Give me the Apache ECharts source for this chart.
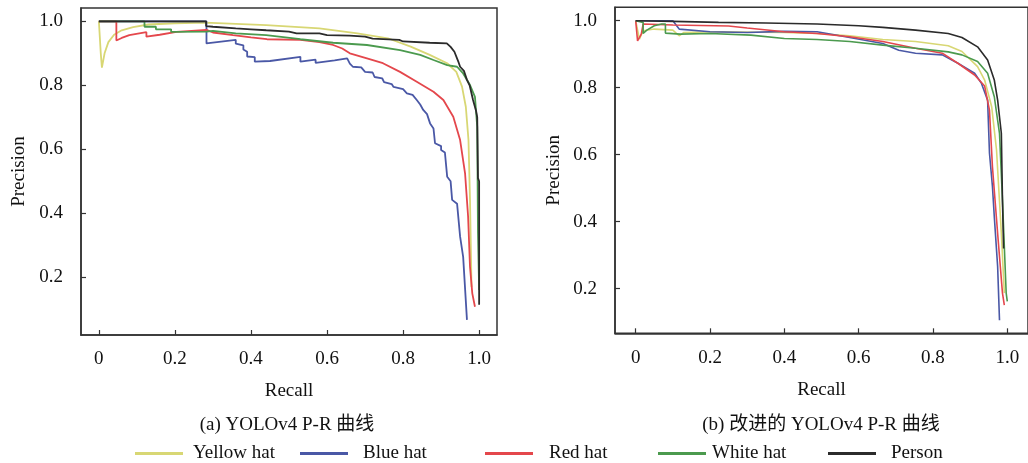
<!DOCTYPE html>
<html><head><meta charset="utf-8">
<script src="https://cdn.jsdelivr.net/npm/echarts@6/dist/echarts.min.js"></script>
<style>html,body{margin:0;padding:0;background:#fff}#c{width:1028px;height:463px}</style>
</head><body><div id="c"></div>
<script>
const seriesNames = ['Yellow hat','Blue hat','Red hat','White hat','Person'];
const seriesColors = ['#d8d774','#4a58a6','#e4474c','#4b9a4e','#2b2b2b'];
const tickValues = [0,0.2,0.4,0.6,0.8,1.0];
const yTickValues = [0.2,0.4,0.6,0.8,1.0];
const titleA = '(a) YOLOv4 P-R 曲线';
const titleB = '(b) 改进的 YOLOv4 P-R 曲线';

// Left panel (YOLOv4): [recall, precision]
const leftYellow = [[0,1.0],[0.005,0.9],[0.008,0.855],[0.015,0.9],[0.025,0.935],[0.04,0.958],[0.06,0.972],[0.09,0.982],[0.13,0.99],[0.2,0.994],[0.28,0.996],[0.44,0.988],[0.58,0.978],[0.68,0.9625],[0.76,0.947],[0.82,0.921],[0.87,0.895],[0.916,0.869],[0.94,0.842],[0.955,0.796],[0.965,0.733],[0.972,0.629],[0.976,0.442],[0.98,0.17]];
const leftBlue = [[0,1.0],[0.283,1.0],[0.283,0.931],[0.36,0.942],[0.36,0.93],[0.38,0.925],[0.38,0.912],[0.39,0.905],[0.39,0.89],[0.41,0.888],[0.41,0.874],[0.45,0.876],[0.53,0.889],[0.53,0.874],[0.57,0.88],[0.57,0.87],[0.62,0.878],[0.653,0.884],[0.66,0.868],[0.668,0.858],[0.69,0.856],[0.7,0.842],[0.72,0.84],[0.725,0.826],[0.745,0.822],[0.75,0.81],[0.77,0.804],[0.775,0.795],[0.80,0.788],[0.81,0.775],[0.825,0.77],[0.836,0.754],[0.845,0.74],[0.853,0.723],[0.863,0.71],[0.871,0.681],[0.88,0.665],[0.884,0.619],[0.9,0.61],[0.9,0.598],[0.91,0.59],[0.916,0.514],[0.925,0.5],[0.929,0.442],[0.942,0.43],[0.95,0.327],[0.958,0.264],[0.963,0.26],[0.968,0.067]];
const leftRed = [[0,1.0],[0.046,1.0],[0.046,0.94],[0.06,0.948],[0.08,0.957],[0.125,0.966],[0.125,0.952],[0.16,0.958],[0.204,0.967],[0.283,0.973],[0.30,0.965],[0.353,0.957],[0.40,0.95],[0.442,0.944],[0.53,0.942],[0.58,0.935],[0.616,0.926],[0.64,0.915],[0.66,0.9],[0.705,0.884],[0.747,0.869],[0.792,0.842],[0.836,0.811],[0.88,0.78],[0.906,0.754],[0.932,0.702],[0.95,0.629],[0.963,0.525],[0.971,0.39],[0.976,0.233],[0.982,0.15],[0.989,0.108]];
const leftGreen = [[0,1.0],[0.12,1.0],[0.12,0.983],[0.15,0.983],[0.15,0.975],[0.19,0.975],[0.19,0.967],[0.283,0.968],[0.3,0.97],[0.36,0.962],[0.44,0.957],[0.53,0.944],[0.616,0.933],[0.705,0.926],[0.792,0.91],[0.845,0.895],[0.88,0.879],[0.916,0.863],[0.942,0.858],[0.958,0.837],[0.976,0.801],[0.989,0.764],[0.995,0.67],[0.997,0.338],[1.0,0.16]];
const leftPerson = [[0,1.0],[0.282,1.0],[0.282,0.985],[0.30,0.983],[0.36,0.978],[0.40,0.975],[0.44,0.972],[0.50,0.968],[0.52,0.962],[0.58,0.962],[0.60,0.957],[0.66,0.955],[0.70,0.952],[0.72,0.946],[0.79,0.942],[0.80,0.937],[0.87,0.933],[0.915,0.931],[0.925,0.92],[0.935,0.905],[0.945,0.875],[0.95,0.858],[0.96,0.845],[0.968,0.817],[0.975,0.80],[0.984,0.754],[0.992,0.72],[0.995,0.70],[0.997,0.51],[1.0,0.50],[1.0,0.114]];

// Right panel (improved YOLOv4)
const rightYellow = [[0,1.0],[0.005,0.995],[0.01,0.945],[0.02,0.97],[0.05,0.975],[0.1,0.972],[0.117,0.955],[0.13,0.965],[0.223,0.967],[0.4,0.965],[0.488,0.962],[0.576,0.955],[0.665,0.944],[0.753,0.938],[0.841,0.925],[0.878,0.908],[0.92,0.863],[0.939,0.823],[0.958,0.743],[0.971,0.614],[0.984,0.365],[0.992,0.187]];
const rightBlue = [[0,1.0],[0.1,1.0],[0.117,0.975],[0.2,0.967],[0.3,0.965],[0.4,0.968],[0.488,0.967],[0.576,0.95],[0.665,0.932],[0.708,0.912],[0.753,0.903],[0.825,0.898],[0.867,0.873],[0.912,0.843],[0.93,0.814],[0.947,0.763],[0.952,0.605],[0.96,0.505],[0.965,0.415],[0.974,0.266],[0.979,0.106]];
const rightRed = [[0,1.0],[0.005,0.995],[0.005,0.94],[0.015,0.96],[0.02,0.99],[0.1,0.987],[0.25,0.984],[0.3,0.978],[0.4,0.967],[0.488,0.962],[0.576,0.952],[0.665,0.938],[0.753,0.918],[0.825,0.903],[0.867,0.873],[0.912,0.838],[0.939,0.805],[0.952,0.733],[0.96,0.564],[0.974,0.365],[0.987,0.187],[0.992,0.151]];
const rightGreen = [[0,1.0],[0.02,0.995],[0.02,0.962],[0.03,0.972],[0.05,0.985],[0.07,0.99],[0.08,0.99],[0.08,0.963],[0.12,0.96],[0.2,0.962],[0.31,0.957],[0.4,0.947],[0.488,0.944],[0.576,0.938],[0.665,0.927],[0.753,0.918],[0.841,0.907],[0.878,0.898],[0.92,0.878],[0.947,0.843],[0.965,0.773],[0.979,0.664],[0.987,0.465],[0.997,0.187],[1.0,0.162]];
const rightPerson = [[0,1.0],[0.1,0.998],[0.223,0.995],[0.35,0.993],[0.488,0.99],[0.6,0.985],[0.665,0.98],[0.753,0.972],[0.841,0.962],[0.878,0.95],[0.92,0.922],[0.947,0.883],[0.965,0.823],[0.974,0.763],[0.984,0.664],[0.987,0.465],[0.99,0.32]];

const leftData = [leftYellow,leftBlue,leftRed,leftGreen,leftPerson];
const rightData = [rightYellow,rightBlue,rightRed,rightGreen,rightPerson];

const FONT = "'Liberation Serif','Noto Sans CJK SC',serif";
const AX = '#333';
const chart = echarts.init(document.getElementById('c'), null, {renderer:'canvas'});

function xAx(gi, min, max){
  return {gridIndex:gi,type:'value',min:min,max:max,name:'Recall',nameLocation:'middle',nameGap:47,
    nameTextStyle:{fontFamily:FONT,fontSize:19,color:'#111'},
    axisLine:{show:true,onZero:false,lineStyle:{color:AX,width:1.5}},
    axisTick:{show:true,inside:true,length:5,customValues:tickValues,lineStyle:{color:AX,width:1.2}},
    axisLabel:{customValues:tickValues,margin:15,fontFamily:FONT,fontSize:19,color:'#111',
      formatter:v=> v===0?'0':v.toFixed(1)},
    splitLine:{show:false}};
}
function yAx(gi, min, max, gap){
  return {gridIndex:gi,type:'value',min:min,max:max,name:'Precision',nameLocation:'middle',nameGap:gap,
    nameTextStyle:{fontFamily:FONT,fontSize:19,color:'#111'},
    axisLine:{show:true,onZero:false,lineStyle:{color:AX,width:1.5}},
    axisTick:{show:true,inside:true,length:5,customValues:yTickValues,lineStyle:{color:AX,width:1.2}},
    axisLabel:{customValues:yTickValues,margin:18,fontFamily:FONT,fontSize:19,color:'#111',
      formatter:v=> v.toFixed(1)},
    splitLine:{show:false}};
}

const series = [];
seriesNames.forEach((n,i)=>{
  series.push({name:n,type:'line',xAxisIndex:0,yAxisIndex:0,data:leftData[i],showSymbol:false,symbol:'none',
    color:seriesColors[i],lineStyle:{width:1.8,color:seriesColors[i]},animation:false,z:2+i});
  series.push({name:n,type:'line',xAxisIndex:1,yAxisIndex:1,data:rightData[i],showSymbol:false,symbol:'none',
    color:seriesColors[i],lineStyle:{width:1.6,color:seriesColors[i]},animation:false,z:2+i});
});

const legendLeft = [135,300,485,658,828];
const legendPad = [5,10,11,1,10];
const legends = seriesNames.map((n,i)=>({
  data:[n],left:legendLeft[i],top:444,padding:0,itemWidth:48,itemHeight:3,icon:'rect',
  textStyle:{fontFamily:FONT,fontSize:19,color:'#111',padding:[0,0,0,legendPad[i]]},selectedMode:false
}));

chart.setOption({
  animation:false,
  grid:[
    {left:81,top:8,width:416,height:327,show:true,borderColor:AX,borderWidth:1.5,containLabel:false},
    {left:615,top:7.3,width:419,height:326,show:true,borderColor:AX,borderWidth:1.5,containLabel:false}
  ],
  xAxis:[xAx(0,-0.047,1.047),xAx(1,-0.0557,1.0557)],
  yAxis:[yAx(0,0.0197,1.0416,52),yAx(1,0.067,1.04,51)],
  legend:legends,
  graphic:[
    {type:'text',x:287,y:425,style:{text:titleA,font:"19px "+FONT,fill:'#111',textAlign:'center',textVerticalAlign:'middle',align:'center',verticalAlign:'middle'}},
    {type:'text',x:821,y:425,style:{text:titleB,font:"19px "+FONT,fill:'#111',textAlign:'center',textVerticalAlign:'middle',align:'center',verticalAlign:'middle'}}
  ],
  series:series
});
</script></body></html>
